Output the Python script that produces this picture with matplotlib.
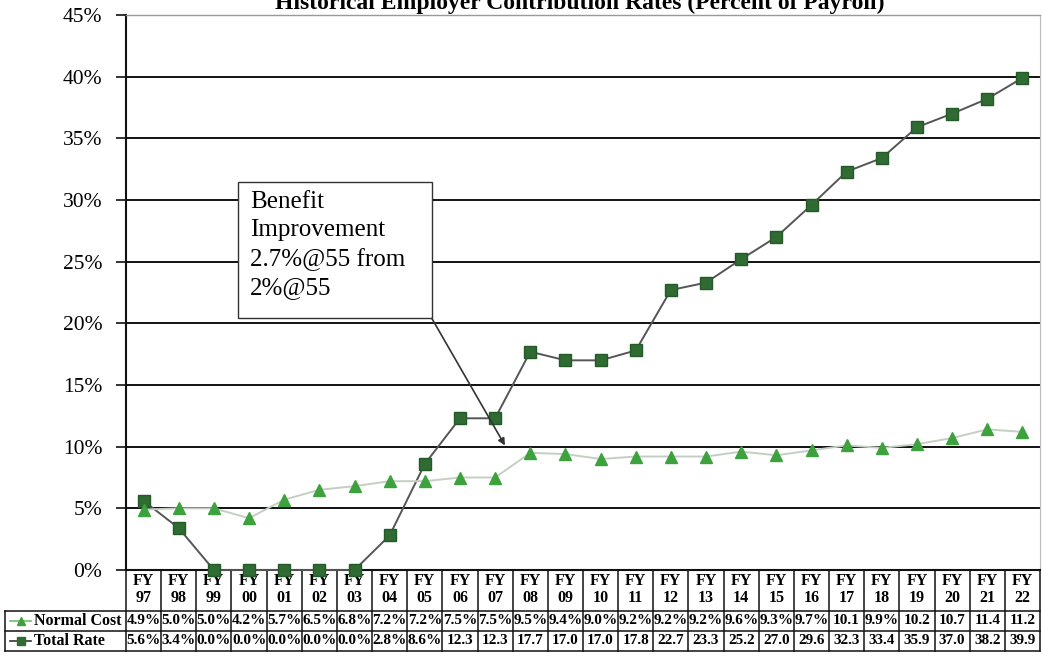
import matplotlib
matplotlib.use("Agg")
import matplotlib.pyplot as plt
import matplotlib.transforms as mtransforms
from matplotlib.patches import Rectangle
from matplotlib.lines import Line2D

plt.rcParams['font.family'] = ['Liberation Serif', 'DejaVu Serif']

# Fiscal years and contribution rates (percent of payroll)
years = ["97", "98", "99", "00", "01", "02", "03", "04", "05", "06", "07", "08", "09",
         "10", "11", "12", "13", "14", "15", "16", "17", "18", "19", "20", "21", "22"]
normal_cost = [4.9, 5.0, 5.0, 4.2, 5.7, 6.5, 6.8, 7.2, 7.2, 7.5, 7.5, 9.5, 9.4,
               9.0, 9.2, 9.2, 9.2, 9.6, 9.3, 9.7, 10.1, 9.9, 10.2, 10.7, 11.4, 11.2]
total_rate = [5.6, 3.4, 0.0, 0.0, 0.0, 0.0, 0.0, 2.8, 8.6, 12.3, 12.3, 17.7, 17.0,
              17.0, 17.8, 22.7, 23.3, 25.2, 27.0, 29.6, 32.3, 33.4, 35.9, 37.0, 38.2, 39.9]
yticks = [0, 5, 10, 15, 20, 25, 30, 35, 40, 45]

W, H = 1042, 659
fig = plt.figure(figsize=(W / 100, H / 100), dpi=100)
ax = fig.add_axes([126 / W, 1 - 570 / H, 914 / W, 555 / H])

x = list(range(len(years)))
ax.set_xlim(-0.5, len(years) - 0.5)
ax.set_ylim(0, 45)

# gridlines
for v in yticks[1:-1]:
    ax.axhline(v, color='#111111', lw=1.4, zorder=1)

ax.spines['left'].set_color('#111111')
ax.spines['left'].set_linewidth(1.5)
ax.spines['bottom'].set_color('#111111')
ax.spines['bottom'].set_linewidth(1.5)
ax.spines['top'].set_color('#999999')
ax.spines['top'].set_linewidth(1.0)
ax.spines['right'].set_color('#bbbbbb')
ax.spines['right'].set_linewidth(0.8)

ax.set_yticks(yticks)
ax.set_yticklabels([f"{v}%" for v in yticks], fontsize=15.5)
ax.tick_params(axis='y', direction='out', length=7, width=1.2, pad=10, color='#111111')
ax.set_xticks([])

# series
tr_color = '#2f6b33'
nc_color = '#3da23d'
ax.plot(x, total_rate, color='#555555', lw=1.4, marker='s', markersize=8.5,
        markerfacecolor=tr_color, markeredgecolor='#245a28', zorder=4, clip_on=False)
ax.plot(x, normal_cost, color='#c4cfc4', lw=1.4, marker='^', markersize=9,
        markerfacecolor=nc_color, markeredgecolor=nc_color, zorder=5, clip_on=False)

# annotation box with arrow
box_l, box_r, box_b, box_t = 2.69, 8.2, 20.4, 31.5
ax.add_patch(Rectangle((box_l, box_b), box_r - box_l, box_t - box_b, facecolor='white',
                       edgecolor='#333333', lw=1.0, zorder=6))
ax.text(box_l + 0.34, box_t - 0.75, "Benefit\nImprovement\n2.7%@55 from\n2%@55",
        fontsize=18, va='top', ha='left', linespacing=1.38, zorder=7)
ax.annotate('', xy=(10.28, 10.1), xytext=(box_r, box_b),
            arrowprops=dict(arrowstyle='-|>', color='#333333', lw=1.2,
                            mutation_scale=10, shrinkA=0, shrinkB=0), zorder=7)

# title (partially above the canvas)
fig.text(580 / W, 1 - 9 / H, "Historical Employer Contribution Rates (Percent of Payroll)",
         ha='center', va='baseline', fontsize=17, fontweight='bold')

# data table beneath the plot
tr = mtransforms.blended_transform_factory(ax.transData, fig.transFigure)
fy = lambda py: 1 - py / H
line_kw = dict(color='#111111', lw=1.1, transform=fig.transFigure)

# column dividers in data coordinates
for i in range(len(years) + 1):
    ax.add_line(Line2D([i - 0.5, i - 0.5], [fy(570), fy(651)], color='#111111', lw=1.1,
                       transform=tr, clip_on=False))
# horizontal rules
left_px = 5
for py in (611, 631, 651):
    fig.add_artist(Line2D([left_px / W, 1040 / W], [fy(py), fy(py)], **line_kw))
fig.add_artist(Line2D([left_px / W, left_px / W], [fy(611), fy(651)], **line_kw))

def fmt(v):
    return f"{v:.1f}%" if v < 10 else f"{v:.1f}"

for i, yr in enumerate(years):
    ax.text(i, fy(581), "FY", transform=tr, ha='center', va='center', fontsize=11.5,
            fontweight='bold', clip_on=False)
    ax.text(i, fy(598), yr, transform=tr, ha='center', va='center', fontsize=11.5,
            fontweight='bold', clip_on=False)
    ax.text(i, fy(621), fmt(normal_cost[i]), transform=tr, ha='center', va='center',
            fontsize=11, fontweight='bold', clip_on=False)
    ax.text(i, fy(641), fmt(total_rate[i]), transform=tr, ha='center', va='center',
            fontsize=11, fontweight='bold', clip_on=False)

# row labels with legend keys
for py, label, mk, mc, lc in ((621, "Normal Cost", '^', nc_color, '#6cbf6c'),
                              (641, "Total Rate", 's', tr_color, '#333333')):
    fig.add_artist(Line2D([10 / W, 31 / W], [fy(py), fy(py)], color=lc, lw=1.2,
                          transform=fig.transFigure))
    fig.add_artist(Line2D([20.5 / W], [fy(py)], marker=mk, markersize=6, color=mc,
                          markerfacecolor=mc, markeredgecolor=mc, transform=fig.transFigure))
    fig.text(34 / W, fy(py), label, ha='left', va='center', fontsize=11.5, fontweight='bold')

fig.savefig("out.png", dpi=100)
